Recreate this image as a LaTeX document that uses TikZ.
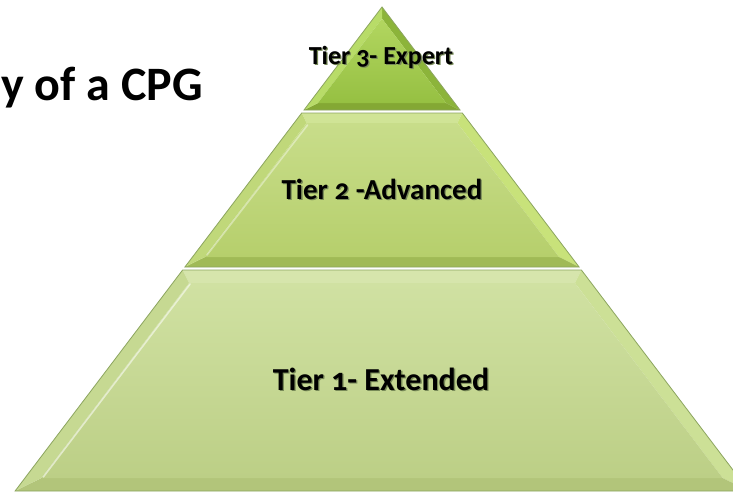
\documentclass[tikz,border=0pt]{standalone}
\usepackage{fontspec}
\setmainfont{Carlito}[Numbers=OldStyle]
\usetikzlibrary{calc}
\definecolor{edge}{RGB}{140,165,95}
\definecolor{shadowcol}{RGB}{120,138,88}
% tier 1
\definecolor{oneFaceT}{RGB}{208,225,162}
\definecolor{oneFaceB}{RGB}{188,207,134}
\definecolor{oneTop}{RGB}{214,229,172}
\definecolor{oneLeft}{RGB}{198,217,146}
\definecolor{oneRight}{RGB}{204,224,150}
\definecolor{oneBot}{RGB}{178,197,122}
% tier 2
\definecolor{twoFaceT}{RGB}{200,221,138}
\definecolor{twoFaceB}{RGB}{182,207,108}
\definecolor{twoTop}{RGB}{208,228,150}
\definecolor{twoLeft}{RGB}{192,216,122}
\definecolor{twoRight}{RGB}{200,226,122}
\definecolor{twoBot}{RGB}{160,186,86}
% tier 3
\definecolor{thrFaceT}{RGB}{178,214,96}
\definecolor{thrFaceB}{RGB}{150,192,66}
\definecolor{thrLeft}{RGB}{184,220,104}
\definecolor{thrRight}{RGB}{140,180,58}
\definecolor{thrBot}{RGB}{132,168,52}
\newcommand{\shadowed}[1]{\rlap{\kern1.3pt\raisebox{-1.3pt}{\textcolor{shadowcol}{#1}}}#1}
\tikzset{
  outline/.style={draw=edge, line width=0.8pt},
  tierlabel/.style={font=\bfseries, text=black, inner sep=0pt},
  highlight/.style={draw=white, opacity=0.55, line width=1.6pt, line cap=round}
}
\begin{document}
\begin{tikzpicture}[x=1pt,y=-1pt]
\useasboundingbox (0,0) rectangle (733,493);
\clip (0,0) rectangle (733,493);
\fill[white] (0,0) rectangle (733,493);

% ---------- Tier 1 (bottom) ----------
\coordinate (A1) at (182.6,270); \coordinate (B1) at (581.4,270);
\coordinate (C1) at (748.9,491); \coordinate (D1) at (15.1,491);
\coordinate (a1) at (189.1,283); \coordinate (b1) at (574.9,283);
\coordinate (c1) at (722.7,478); \coordinate (d1) at (41.3,478);
\fill[oneTop] (A1) -- (B1) -- (b1) -- (a1) -- cycle;
\fill[oneRight] (B1) -- (C1) -- (c1) -- (b1) -- cycle;
\fill[oneBot] (C1) -- (D1) -- (d1) -- (c1) -- cycle;
\fill[oneLeft] (D1) -- (A1) -- (a1) -- (d1) -- cycle;
\shade[top color=oneFaceT, bottom color=oneFaceB] (a1) -- (b1) -- (c1) -- (d1) -- cycle;
\draw[highlight] ($(a1)+(1,1)$) -- ($(d1)+(2,-1)$);
\draw[outline] (A1) -- (B1) -- (C1) -- (D1) -- cycle;

% ---------- Tier 2 (middle) ----------
\coordinate (A2) at (301.7,113); \coordinate (B2) at (462.3,113);
\coordinate (C2) at (579.1,267); \coordinate (D2) at (184.9,267);
\coordinate (a2) at (306.6,123); \coordinate (b2) at (457.4,123);
\coordinate (c2) at (559.0,257); \coordinate (d2) at (205.0,257);
\fill[twoTop] (A2) -- (B2) -- (b2) -- (a2) -- cycle;
\fill[twoRight] (B2) -- (C2) -- (c2) -- (b2) -- cycle;
\fill[twoBot] (C2) -- (D2) -- (d2) -- (c2) -- cycle;
\fill[twoLeft] (D2) -- (A2) -- (a2) -- (d2) -- cycle;
\shade[top color=twoFaceT, bottom color=twoFaceB] (a2) -- (b2) -- (c2) -- (d2) -- cycle;
\draw[highlight, opacity=0.4] ($(a2)+(1,2)$) -- ($(d2)+(2,-2)$);
\draw[outline] (A2) -- (B2) -- (C2) -- (D2) -- cycle;

% ---------- Tier 3 (top) ----------
\coordinate (A3) at (382,7);
\coordinate (C3) at (460,110); \coordinate (D3) at (304,110);
\coordinate (a3) at (382,18.6);
\coordinate (c3) at (446,103); \coordinate (d3) at (318,103);
\fill[thrRight] (A3) -- (C3) -- (c3) -- (a3) -- cycle;
\fill[thrBot] (C3) -- (D3) -- (d3) -- (c3) -- cycle;
\fill[thrLeft] (D3) -- (A3) -- (a3) -- (d3) -- cycle;
\shade[top color=thrFaceT, bottom color=thrFaceB] (a3) -- (c3) -- (d3) -- cycle;
\draw[outline] (A3) -- (C3) -- (D3) -- cycle;

% ---------- Labels ----------
\node[tierlabel, font=\bfseries\fontsize{26}{30}\selectfont] (t3) at (381,58) {\shadowed{Tier 3- Expert}};
\node[tierlabel, font=\bfseries\fontsize{29}{34}\selectfont] (t2) at (382,190) {\shadowed{Tier 2 -Advanced}};
\node[tierlabel, font=\bfseries\fontsize{32}{38}\selectfont] (t1) at (381,380) {\shadowed{Tier 1- Extended}};

\node[tierlabel, anchor=base west, font=\bfseries\fontsize{48}{56}\selectfont] (title) at (1,100) {y of a CPG};
\end{tikzpicture}
\end{document}
